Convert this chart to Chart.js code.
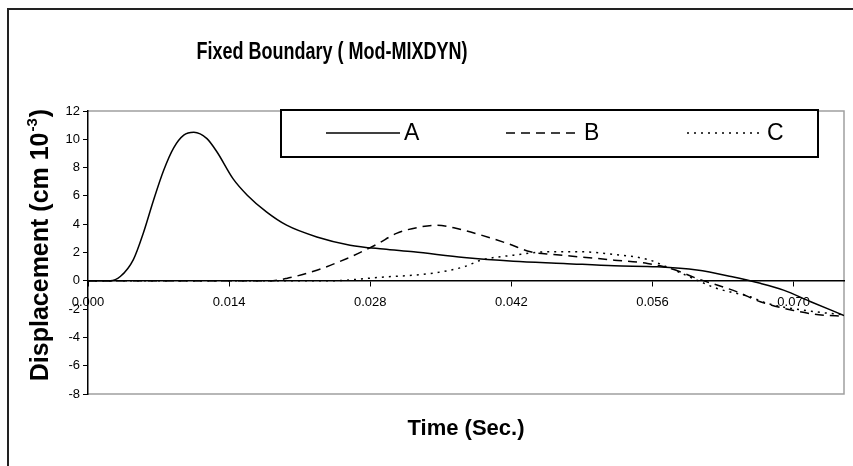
<!DOCTYPE html>
<html>
<head>
<meta charset="utf-8">
<script src="https://cdn.jsdelivr.net/npm/chart.js@4/dist/chart.umd.min.js"></script>
<style>
  html, body { margin: 0; padding: 0; background: #fff; }
  #wrap { position: relative; width: 853px; height: 466px; }
</style>
</head>
<body>
<div id="wrap"><canvas id="chart" width="853" height="466"></canvas></div>
<script>
// Datos (tiempo en s, desplazamiento en cm 10^-3)
var seriesNames = ['A', 'B', 'C'];

var timeA = [0, 0.0022, 0.0032, 0.0045, 0.0055, 0.0065, 0.0075, 0.0085, 0.0095, 0.0105, 0.0118, 0.0128, 0.0144, 0.0158, 0.0177, 0.0197, 0.0227, 0.026, 0.0293, 0.0323, 0.0373, 0.0422, 0.0472, 0.0522, 0.0565, 0.0604, 0.0638, 0.0667, 0.069, 0.0717, 0.075];
var dispA = [0, 0, 0.3, 1.5, 3.4, 5.7, 7.8, 9.4, 10.3, 10.5, 10.05, 9.1, 7.2, 6.05, 4.87, 3.93, 3.1, 2.52, 2.24, 2.05, 1.65, 1.39, 1.23, 1.06, 0.99, 0.76, 0.3, -0.18, -0.66, -1.48, -2.45];

var timeB = [0, 0.018, 0.0197, 0.0227, 0.0257, 0.0287, 0.0306, 0.033, 0.0346, 0.0366, 0.039, 0.0416, 0.0439, 0.0462, 0.0488, 0.0522, 0.0555, 0.0578, 0.0604, 0.0624, 0.0644, 0.0667, 0.07, 0.0725, 0.075];
var dispB = [0, 0, 0.17, 0.75, 1.58, 2.6, 3.35, 3.81, 3.93, 3.7, 3.23, 2.64, 2.05, 1.86, 1.69, 1.46, 1.23, 0.87, 0.17, -0.3, -0.78, -1.48, -2.1, -2.4, -2.5];

var timeC = [0, 0.024, 0.029, 0.034, 0.0373, 0.039, 0.0422, 0.0456, 0.0488, 0.0522, 0.0555, 0.0578, 0.0604, 0.0624, 0.0657, 0.0674, 0.0723, 0.075];
var dispC = [0, 0, 0.25, 0.52, 0.99, 1.46, 1.81, 2.05, 2.05, 1.86, 1.51, 0.87, 0.05, -0.54, -1.13, -1.6, -2.2, -2.4];

var chartTitle = 'Fixed Boundary ( Mod-MIXDYN)';
var xTitle = 'Time (Sec.)';
var yTitleMain = 'Displacement (cm 10';
var yTitleSup = '-3';
var yTitleEnd = ')';

var xMin = 0, xMax = 0.075, xStep = 0.014;
var yMin = -8, yMax = 12, yStep = 2;

function toPoints(xs, ys) {
  return xs.map(function(x, i) { return { x: x, y: ys[i] }; });
}

var FONT = '"Liberation Sans", Arial, sans-serif';

// Fondo, marco exterior y borde gris del área de trazado
var framePlugin = {
  id: 'frame',
  beforeDraw: function(chart) {
    var c = chart.ctx, a = chart.chartArea;
    c.save();
    c.fillStyle = '#fff';
    c.fillRect(0, 0, chart.width, chart.height);
    c.strokeStyle = '#222';
    c.lineWidth = 2;
    c.beginPath();
    c.moveTo(8, chart.height);
    c.lineTo(8, 9);
    c.lineTo(chart.width, 9);
    c.stroke();
    c.strokeStyle = '#a0a0a0';
    c.lineWidth = 1.5;
    c.beginPath();
    c.moveTo(a.left, a.top);
    c.lineTo(a.right, a.top);
    c.lineTo(a.right, a.bottom);
    c.lineTo(a.left, a.bottom);
    c.stroke();
    c.restore();
  }
};

// Títulos y leyenda dibujados a mano
var textPlugin = {
  id: 'texts',
  afterDraw: function(chart) {
    var c = chart.ctx, a = chart.chartArea;
    c.save();
    c.fillStyle = '#000';

    // título principal (ancho ajustado al de la imagen)
    c.font = 'bold 24px ' + FONT;
    c.textBaseline = 'alphabetic';
    c.textAlign = 'center';
    var w = c.measureText(chartTitle).width;
    c.save();
    c.translate(332, 59);
    c.scale(271 / w, 1);
    c.fillText(chartTitle, 0, 0);
    c.restore();

    // título eje x
    c.font = 'bold 22px ' + FONT;
    c.fillText(xTitle, (a.left + a.right) / 2, 435);

    // título eje y con superíndice
    c.save();
    c.translate(48, 246);
    c.rotate(-Math.PI / 2);
    c.font = 'bold 25px ' + FONT;
    var w1 = c.measureText(yTitleMain).width;
    c.font = 'bold 15px ' + FONT;
    var w2 = c.measureText(yTitleSup).width;
    c.font = 'bold 25px ' + FONT;
    var w3 = c.measureText(yTitleEnd).width;
    var x0 = -(w1 + w2 + w3) / 2;
    c.textAlign = 'left';
    c.fillText(yTitleMain, x0, 0);
    c.font = 'bold 15px ' + FONT;
    c.fillText(yTitleSup, x0 + w1 + 1, -11);
    c.font = 'bold 25px ' + FONT;
    c.fillText(yTitleEnd, x0 + w1 + w2 + 2, 0);
    c.restore();

    // leyenda
    c.fillStyle = '#fff';
    c.fillRect(281, 110, 537, 47);
    c.strokeStyle = '#000';
    c.lineWidth = 2;
    c.strokeRect(281, 110, 537, 47);
    var items = [
      { x1: 326, x2: 400, tx: 404 },
      { x1: 506, x2: 580, tx: 584 },
      { x1: 687, x2: 764, tx: 767 }
    ];
    chart.data.datasets.forEach(function(ds, i) {
      var it = items[i];
      c.strokeStyle = '#000';
      c.lineWidth = 1.5;
      c.setLineDash(ds.borderDash || []);
      c.beginPath();
      c.moveTo(it.x1, 133);
      c.lineTo(it.x2, 133);
      c.stroke();
      c.setLineDash([]);
      c.fillStyle = '#000';
      c.font = '23px ' + FONT;
      c.textAlign = 'left';
      c.textBaseline = 'middle';
      c.fillText(ds.label, it.tx, 134);
    });
    c.restore();
  }
};

var ctx = document.getElementById('chart').getContext('2d');
var chart = new Chart(ctx, {
  type: 'line',
  data: {
    datasets: [
      { label: seriesNames[0], data: toPoints(timeA, dispA), borderDash: [] },
      { label: seriesNames[1], data: toPoints(timeB, dispB), borderDash: [9, 6] },
      { label: seriesNames[2], data: toPoints(timeC, dispC), borderDash: [2, 5] }
    ].map(function(ds) {
      ds.borderColor = '#000';
      ds.borderWidth = 1.5;
      ds.pointRadius = 0;
      ds.fill = false;
      ds.cubicInterpolationMode = 'monotone';
      return ds;
    })
  },
  options: {
    responsive: false,
    animation: false,
    layout: { padding: { left: 0, top: 111, right: 9, bottom: 72 } },
    plugins: {
      legend: { display: false },
      title: { display: false },
      tooltip: { enabled: false }
    },
    scales: {
      x: {
        type: 'linear',
        position: { y: 0 },
        min: xMin, max: xMax,
        border: { display: true, color: '#000', width: 1.5 },
        grid: { drawOnChartArea: false, drawTicks: true, tickLength: 5, color: '#000' },
        ticks: {
          stepSize: xStep,
          includeBounds: false,
          maxRotation: 0,
          autoSkip: false,
          padding: 9,
          color: '#000',
          font: { family: FONT, size: 13 },
          callback: function(v) { return v.toFixed(3); }
        }
      },
      y: {
        min: yMin, max: yMax,
        border: { display: true, color: '#000', width: 1.5 },
        grid: { drawOnChartArea: false, drawTicks: true, tickLength: 5, color: '#000' },
        ticks: {
          stepSize: yStep,
          padding: 3,
          color: '#000',
          font: { family: FONT, size: 13 }
        },
        afterFit: function(scale) { scale.width = 88; }
      }
    }
  },
  plugins: [framePlugin, textPlugin]
});
</script>
</body>
</html>
